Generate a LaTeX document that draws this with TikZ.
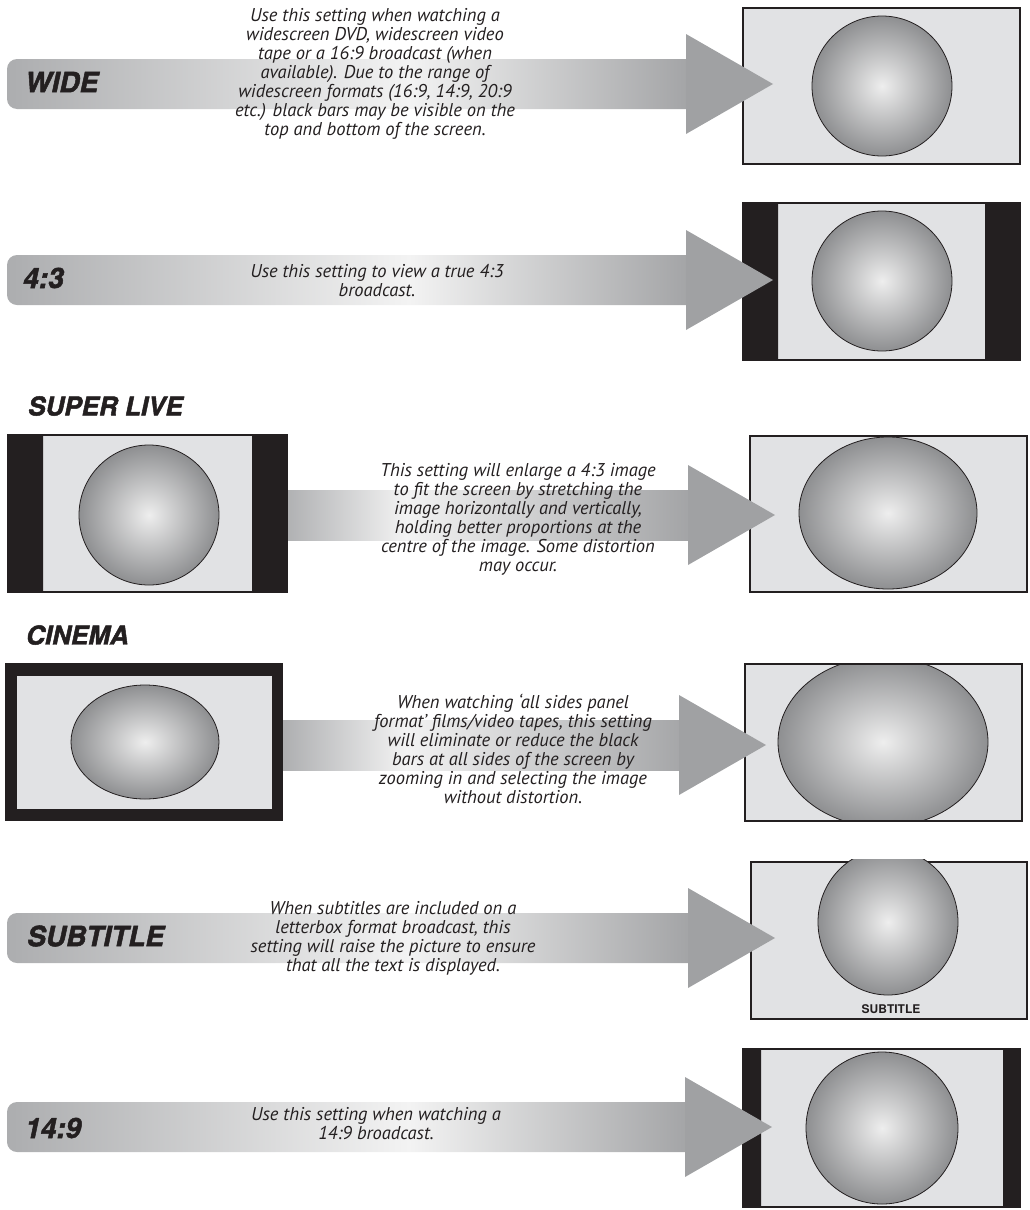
\documentclass[tikz,border=0pt]{standalone}
\usepackage{fontspec}
\newfontfamily\descfont{PT Sans}
\newfontfamily\tagfont{TeX Gyre Heros}[BoldItalicFeatures={FakeBold=1.8}]
\definecolor{screenfill}{HTML}{E1E2E4}
\definecolor{inkdark}{HTML}{231F20}
\definecolor{arrowgray}{HTML}{A0A1A3}
\definecolor{bandleft}{HTML}{ACADAF}
\definecolor{bandlight}{HTML}{F3F3F3}
\definecolor{ballin}{HTML}{EEEEEE}
\definecolor{ballout}{HTML}{8E8F91}
\pgfdeclarehorizontalshading{longband}{100bp}{color(0bp)=(bandleft); color(25bp)=(bandleft); color(54bp)=(bandlight); color(75bp)=(arrowgray); color(100bp)=(arrowgray)}
\pgfdeclarehorizontalshading{shortband}{100bp}{color(0bp)=(bandleft); color(25bp)=(bandleft); color(40bp)=(bandlight); color(75bp)=(arrowgray); color(100bp)=(arrowgray)}

\begin{document}
\begin{tikzpicture}[x=1pt, y=-1pt,
    tri/.style={fill=arrowgray},
    screen/.style={fill=screenfill, draw=inkdark, line width=1.6},
    bar/.style={fill=inkdark},
    ball/.style={inner color=ballin, outer color=ballout, draw=inkdark, line width=0.8},
    tag/.style={anchor=west, inner sep=0, font=\tagfont\bfseries\itshape\fontsize{28}{30}\selectfont, text=inkdark},
    title/.style={tag, font=\tagfont\bfseries\itshape\fontsize{26}{28}\selectfont},
    desc/.style={align=center, inner sep=0, font=\descfont\itshape\fontsize{18.5}{19}\selectfont, text=inkdark}]
    \useasboundingbox (0,0) rectangle (1029,1210);

    % bands
    \foreach \yc in {84,280,938,1127}
      \shade[shading=longband, rounded corners=10] (700,\yc-25) -- (7,\yc-25) -- (7,\yc+25) -- (700,\yc+25);
    \foreach \yc in {515,745}
      \shade[shading=shortband] (280,\yc-25) rectangle (700,\yc+25);

    % wide
    \draw[screen] (743,8) rectangle (1020,164);
    \draw[ball] (882,86) circle (70);

    % 4:3
    \draw[screen] (743,203) rectangle (1020,360);
    \fill[bar] (743,203) rectangle (778,360) (985,203) rectangle (1020,360);
    \draw[ball] (882,281) circle (70);

    % super live
    \draw[screen] (8,435) rectangle (287,592);
    \fill[bar] (8,435) rectangle (43,592) (252,435) rectangle (287,592);
    \draw[ball] (149,515) circle (70);
    \draw[screen] (750,436) rectangle (1027,592);
    \draw[ball] (888,513) ellipse (89 and 76);

    % cinema
    \fill[bar] (5,663) rectangle (283,821);
    \fill[screenfill] (17,676) rectangle (272,809);
    \draw[ball] (145,742) ellipse (74 and 57);
    \fill[screenfill] (745,664) rectangle (1022,821);
    \begin{scope}
      \clip (745,664) rectangle (1022,821);
      \draw[ball] (883,742) ellipse (105 and 85);
    \end{scope}
    \draw[screen, fill=none] (745,664) rectangle (1022,821);

    % subtitle
    \draw[screen] (751,862) rectangle (1027,1019);
    \begin{scope}
      \clip (751,859) rectangle (1027,1019);
      \draw[ball] (888,922) ellipse (70 and 73);
    \end{scope}
    \node[inner sep=0, font=\tagfont\bfseries\fontsize{12}{12}\selectfont, text=inkdark] (subcap) at (891,1009) {SUBTITLE};

    % 14:9
    \draw[screen] (743,1049) rectangle (1020,1207);
    \fill[bar] (743,1049) rectangle (761,1207) (1003,1049) rectangle (1020,1207);
    \draw[ball] (882,1128) circle (76);

    % arrow heads
    \foreach \yc/\xb in {84/686, 280/686, 515/688, 745/679, 938/688, 1127/685}
      \fill[tri] (\xb,\yc-50) -- (\xb+87,\yc) -- (\xb,\yc+50) -- cycle;

    \node[tag] (wide) at (25,82) {WIDE};
    \node[tag] (four) at (23,278) {4:3};
    \node[title] (super) at (28,406) {SUPER LIVE};
    \node[title] (cinema) at (26,635) {CINEMA};
    \node[tag] (subtitle) at (27,936) {SUBTITLE};
    \node[tag] (fourteen) at (25,1128) {14:9};

    \node[desc] (widetxt) at (375,74) {Use this setting when watching a\\widescreen DVD, widescreen video\\tape or a 16:9 broadcast (when\\available). Due to the range of\\widescreen formats (16:9, 14:9, 20:9\\etc.) black bars may be visible on the\\top and bottom of the screen.};
    \node[desc] (fourtxt) at (377,281) {Use this setting to view a true 4:3\\broadcast.};
    \node[desc] (supertxt) at (518,519) {This setting will enlarge a 4:3 image\\to fit the screen by stretching the\\image horizontally and vertically,\\holding better proportions at the\\centre of the image. Some distortion\\may occur.};
    \node[desc] (cinematxt) at (513,749) {When watching ‘all sides panel\\format’ films/video tapes, this setting\\will eliminate or reduce the black\\bars at all sides of the screen by\\zooming in and selecting the image\\without distortion.};
    \node[desc] (subtxt) at (393,938) {When subtitles are included on a\\letterbox format broadcast, this\\setting will raise the picture to ensure\\that all the text is displayed.};
    \node[desc] (fourteentxt) at (376,1124) {Use this setting when watching a\\14:9 broadcast.};
\end{tikzpicture}
\end{document}
